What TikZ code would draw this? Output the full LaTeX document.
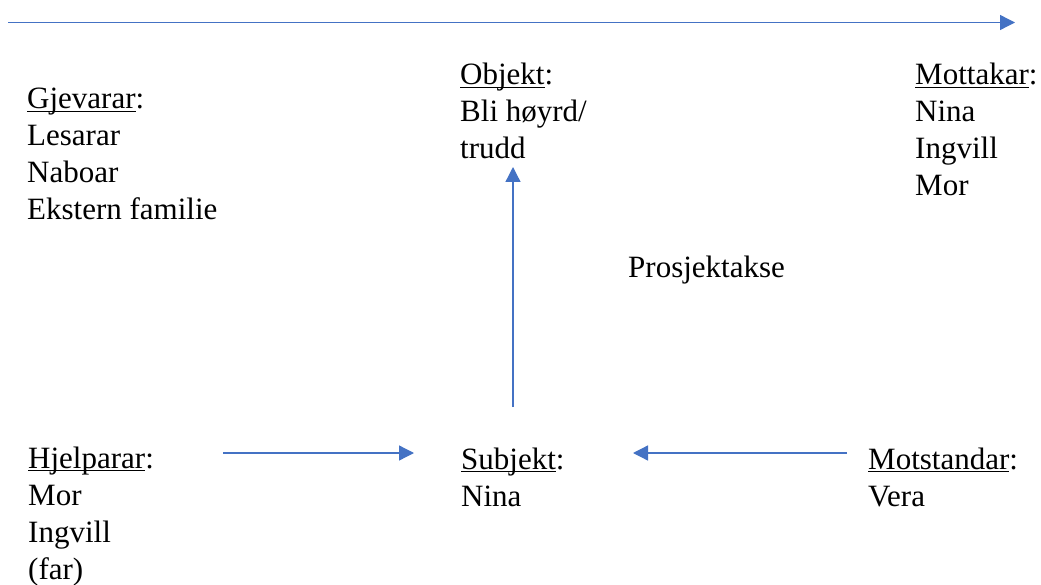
\documentclass[tikz,border=0pt]{standalone}
\usepackage{fontspec}
\setmainfont{Liberation Serif}
\usetikzlibrary{arrows.meta}
\definecolor{axblue}{HTML}{4472C4}
\newcommand\myul[1]{\setbox0\hbox{#1}\rlap{\rule[-2.8pt]{\wd0}{1.2pt}}\box0}
\tikzset{
  txt/.style={anchor=base west, inner sep=0pt, align=left, font=\fontsize{31}{37}\selectfont},
  axarrow/.style={draw=axblue, line width=1.3pt, -{Triangle[length=15pt,width=15pt]}}
}
\begin{document}
\begin{tikzpicture}[x=1pt,y=-1pt]
\useasboundingbox (0,0) rectangle (1041,585);
% anchors are at the baseline of the last line of each block
\node[txt] (gjev) at (27,220) {\myul{Gjevarar}:\\Lesarar\\Naboar\\Ekstern familie};
\node[txt] (obj) at (460,159) {\myul{Objekt}:\\Bli høyrd/\\trudd};
\node[txt] (mott) at (915,196) {\myul{Mottakar}:\\Nina\\Ingvill\\Mor};
\node[txt] (pros) at (628,277) {Prosjektakse};
\node[txt] (hjelp) at (28,579) {\myul{Hjelparar}:\\Mor\\Ingvill\\(far)};
\node[txt] (subj) at (461,506) {\myul{Subjekt}:\\Nina};
\node[txt] (mots) at (868,506) {\myul{Motstandar}:\\Vera};
\coordinate (axL) at (8,22.5);
\coordinate (axR) at (1015,22.5);
\coordinate (vB) at (513,407);
\coordinate (vT) at (513,167);
\coordinate (hA) at (223,453);
\coordinate (hB) at (414,453);
\coordinate (mA) at (847,453);
\coordinate (mB) at (633,453);
\draw[axarrow] (axL) -- (axR);
\draw[axarrow] (vB) -- (vT);
\draw[axarrow] (hA) -- (hB);
\draw[axarrow] (mA) -- (mB);
\end{tikzpicture}
\end{document}
